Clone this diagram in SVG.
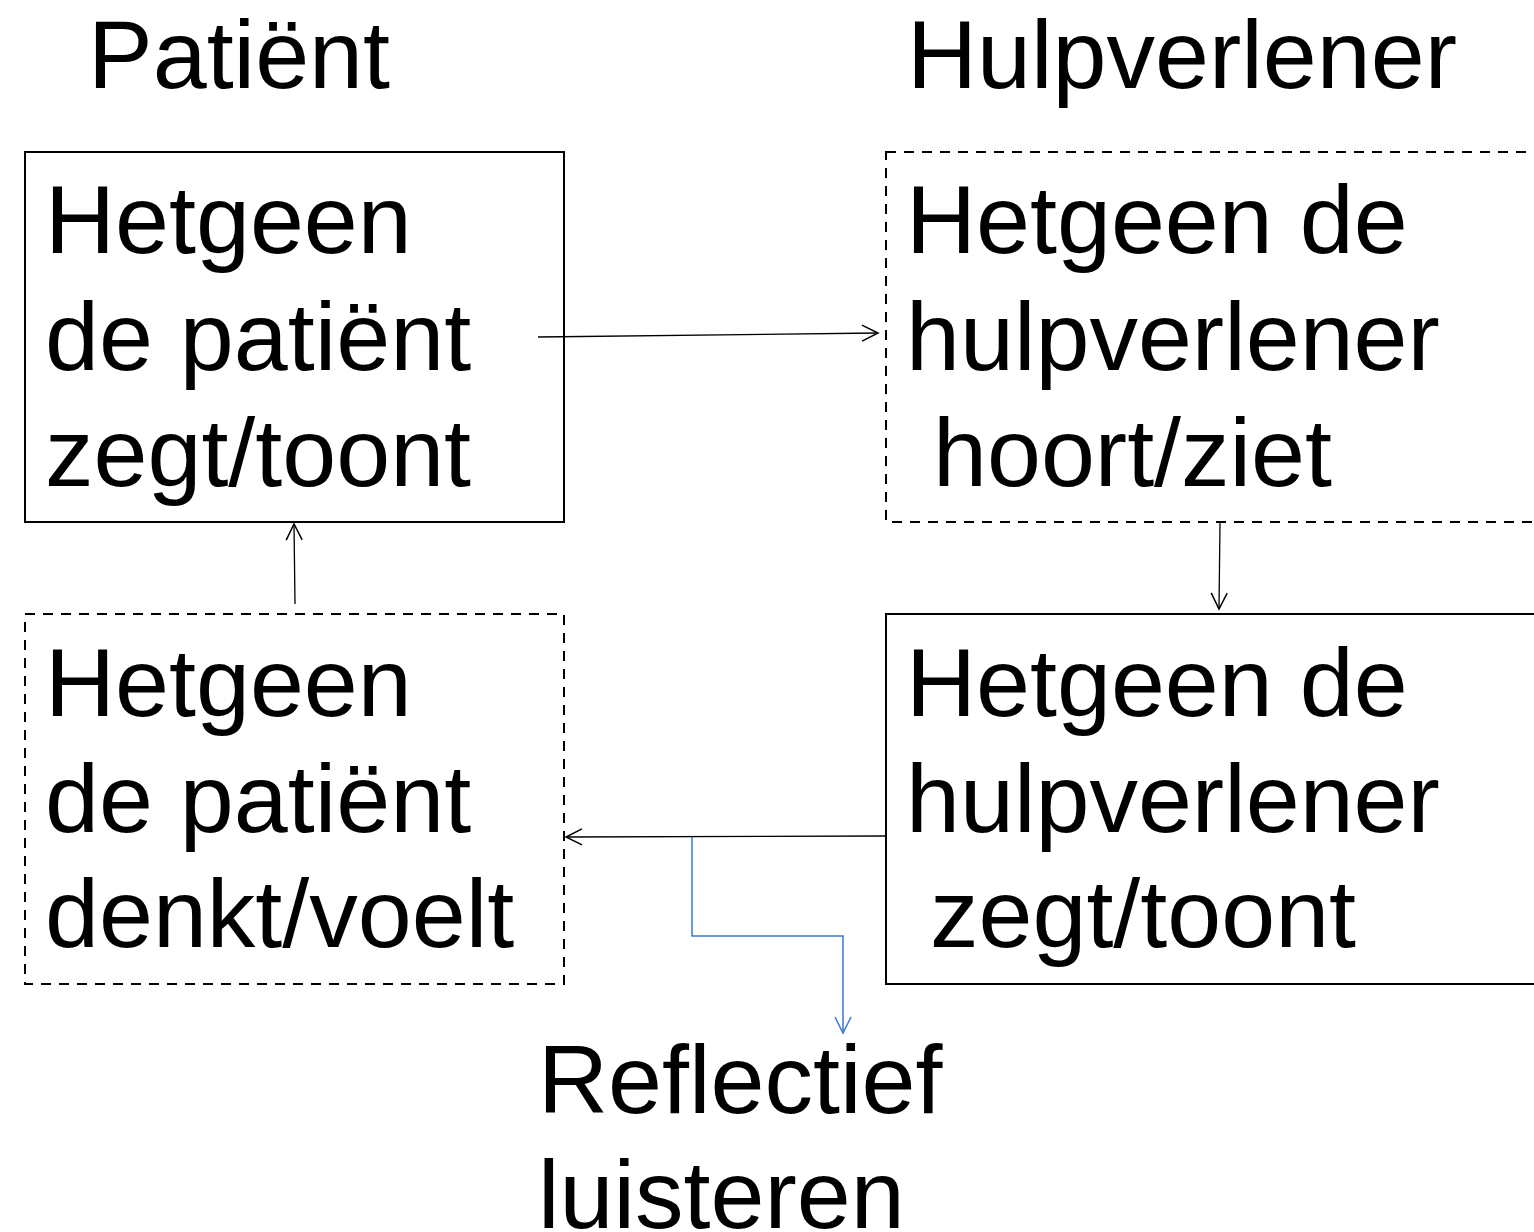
<svg xmlns="http://www.w3.org/2000/svg" width="1534" height="1232" viewBox="0 0 1534 1232">
<style>
text{font-family:"Liberation Sans",Arial,sans-serif;font-size:97px;fill:#000}
.box{fill:none;stroke:#000;stroke-width:2}
.dash{stroke-dasharray:10 8}
.conn{fill:none;stroke:#000;stroke-width:1.3}
.blue{fill:none;stroke:#3a78d4;stroke-width:1.5}
</style>
<defs>
<marker id="arr" viewBox="0 0 20 20" refX="18" refY="10" markerWidth="20" markerHeight="20" markerUnits="userSpaceOnUse" orient="auto">
<path d="M2 2 L18 10 L2 18" fill="none" stroke="#000" stroke-width="1.5"/>
</marker>
<marker id="arrb" viewBox="0 0 20 20" refX="18" refY="10" markerWidth="20" markerHeight="20" markerUnits="userSpaceOnUse" orient="auto">
<path d="M2 2 L18 10 L2 18" fill="none" stroke="#3a78d4" stroke-width="1.5"/>
</marker>
</defs>
<g id="title-patient"><text x="88" y="88">Patiënt</text></g>
<g id="title-hulpverlener"><text x="907" y="88">Hulpverlener</text></g>
<g id="node-patient-zegt">
<rect class="box" x="25" y="152" width="539" height="370"/>
<text x="45" y="253">Hetgeen</text>
<text x="45" y="370">de patiënt</text>
<text x="45" y="486">zegt/toont</text>
</g>
<g id="node-hulp-hoort">
<rect class="box dash" x="886" y="152" width="660" height="370"/>
<text x="906" y="253">Hetgeen de</text>
<text x="906" y="370">hulpverlener</text>
<text x="933" y="486">hoort/ziet</text>
</g>
<g id="node-patient-denkt">
<rect class="box dash" x="25" y="614" width="539" height="370"/>
<text x="45" y="716">Hetgeen</text>
<text x="45" y="832">de patiënt</text>
<text x="45" y="947">denkt/voelt</text>
</g>
<g id="node-hulp-zegt">
<rect class="box" x="886" y="614" width="660" height="370"/>
<text x="906" y="716">Hetgeen de</text>
<text x="906" y="832">hulpverlener</text>
<text x="930" y="947">zegt/toont</text>
</g>
<g id="node-reflectief">
<text x="538" y="1113">Reflectief</text>
<text x="538" y="1228">luisteren</text>
</g>
<g id="connectors">
<line class="conn" x1="538" y1="337" x2="878" y2="333" marker-end="url(#arr)"/>
<line class="conn" x1="1220" y1="523" x2="1219" y2="609" marker-end="url(#arr)"/>
<line class="conn" x1="886" y1="836" x2="566" y2="837" marker-end="url(#arr)"/>
<line class="conn" x1="295" y1="604" x2="294" y2="524" marker-end="url(#arr)"/>
<polyline class="blue" points="692,837 692,936 843,936 843,1033" marker-end="url(#arrb)"/>
</g>
</svg>
